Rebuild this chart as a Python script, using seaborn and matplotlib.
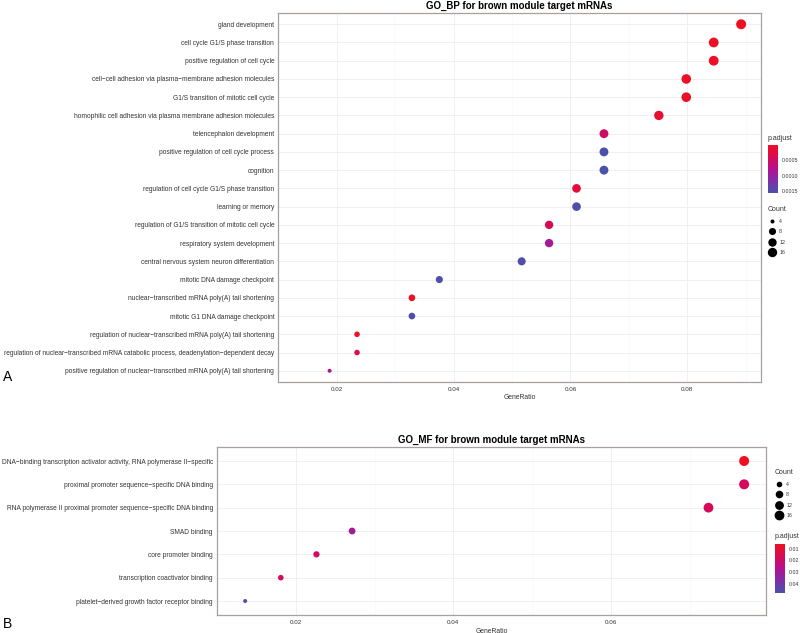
import numpy as np
import pandas as pd
import matplotlib
matplotlib.use("Agg")
import matplotlib.pyplot as plt
import seaborn as sns
from matplotlib.colors import LinearSegmentedColormap, Normalize
from matplotlib.lines import Line2D
import matplotlib.colorbar as mcolorbar

# ---------------- data ----------------
bp_terms = [
    "gland development",
    "cell cycle G1/S phase transition",
    "positive regulation of cell cycle",
    "cell\u2212cell adhesion via plasma\u2212membrane adhesion molecules",
    "G1/S transition of mitotic cell cycle",
    "homophilic cell adhesion via plasma membrane adhesion molecules",
    "telencephalon development",
    "positive regulation of cell cycle process",
    "cognition",
    "regulation of cell cycle G1/S phase transition",
    "learning or memory",
    "regulation of G1/S transition of mitotic cell cycle",
    "respiratory system development",
    "central nervous system neuron differentiation",
    "mitotic DNA damage checkpoint",
    "nuclear\u2212transcribed mRNA poly(A) tail shortening",
    "mitotic G1 DNA damage checkpoint",
    "regulation of nuclear\u2212transcribed mRNA poly(A) tail shortening",
    "regulation of nuclear\u2212transcribed mRNA catabolic process, deadenylation\u2212dependent decay",
    "positive regulation of nuclear\u2212transcribed mRNA poly(A) tail shortening",
]
bp_count = [19, 18, 18, 17, 17, 16, 14, 14, 14, 13, 13, 12, 12, 11, 8, 7, 7, 5, 5, 4]
bp_total = 213
bp_padj = [0.000016, 0.00005, 0.00006, 0.00008, 0.00008, 0.00015, 0.00050, 0.00156,
           0.00156, 0.00020, 0.00152, 0.00040, 0.00090, 0.00150, 0.00150, 0.00005,
           0.00150, 0.00010, 0.00030, 0.00090]

mf_terms = [
    "DNA\u2212binding transcription activator activity, RNA polymerase II\u2212specific",
    "proximal promoter sequence\u2212specific DNA binding",
    "RNA polymerase II proximal promoter sequence\u2212specific DNA binding",
    "SMAD binding",
    "core promoter binding",
    "transcription coactivator binding",
    "platelet\u2212derived growth factor receptor binding",
]
mf_count = [17, 17, 16, 6, 5, 4, 3]
mf_total = 221
mf_padj = [0.0060, 0.0170, 0.0170, 0.0300, 0.0190, 0.0170, 0.0480]

bp_xticks = [0.02, 0.04, 0.06, 0.08]
mf_xticks = [0.02, 0.04, 0.06]
count_legend = [4, 8, 12, 16]
bp_cbar_ticks = [0.0005, 0.0010, 0.0015]
mf_cbar_ticks = [0.01, 0.02, 0.03, 0.04]

# ---------------- style ----------------
sns.set_style("white")
plt.rcParams["font.family"] = ["Liberation Sans", "DejaVu Sans"]

cmap = LinearSegmentedColormap.from_list(
    "rb", ["#EE1020", "#D80A55", "#B4108E", "#7E30A8", "#4A52AA"])
TXT = "#333333"
BORDER = "#A8A09E"

W, H = 800, 633
fig = plt.figure(figsize=(8, 6.33), dpi=100)


def fx(px):
    return px / W


def fy(py):
    return 1 - py / H


def diam_px(c, cmin, cmax):
    return 4 + 6 * np.sqrt((c - cmin) / (cmax - cmin))


def panel(rect, terms, counts, total, padj, xticks, title, xlim):
    df = pd.DataFrame({"Description": terms,
                       "GeneRatio": np.array(counts) / total,
                       "Count": counts,
                       "p.adjust": padj})
    cmin, cmax = min(counts), max(counts)
    sizes = {c: (diam_px(c, cmin, cmax) * 0.72) ** 2 for c in sorted(set(counts))}
    ax = fig.add_axes(rect)
    vmin, vmax = min(padj), max(padj)
    sns.scatterplot(data=df, x="GeneRatio", y="Description", hue="p.adjust",
                    palette=cmap, hue_norm=(vmin, vmax), size="Count",
                    sizes=sizes, linewidth=0, legend=False, ax=ax, zorder=3)
    n = len(terms)
    ax.set_ylim(n - 1 + 0.6, -0.6)
    ax.set_xlim(*xlim)
    ax.set_xticks(xticks)
    ax.set_xticklabels([f"{t:.2f}" for t in xticks])
    minor = [(a + b) / 2 for a, b in zip(xticks[:-1], xticks[1:])]
    minor = [xticks[0] - (xticks[1] - xticks[0]) / 2] + minor + [xticks[-1] + (xticks[1] - xticks[0]) / 2]
    ax.set_xticks(minor, minor=True)
    ax.grid(True, which="major", color="#EEEEEE", linewidth=0.6, zorder=0)
    ax.grid(True, which="minor", axis="x", color="#F7F7F7", linewidth=0.4, zorder=0)
    ax.set_axisbelow(True)
    ax.tick_params(axis="y", labelsize=4.8, colors=TXT, length=2, width=0.5, pad=1)
    ax.tick_params(axis="x", labelsize=4.5, colors=TXT, length=2, width=0.5, pad=1.5)
    ax.tick_params(axis="x", which="minor", length=0)
    for sp in ax.spines.values():
        sp.set_color(BORDER)
        sp.set_linewidth(0.9)
    ax.set_ylabel("")
    ax.set_xlabel("GeneRatio", fontsize=4.9, color=TXT, labelpad=2)
    ax.set_title(title, fontsize=7, fontweight="bold", color="black", pad=3)
    return ax, (cmin, cmax), (vmin, vmax)


def count_legend_draw(x_px, y_px, cmin, cmax):
    handles = [Line2D([0], [0], marker="o", linestyle="", color="black",
                      markersize=diam_px(c, cmin, cmax) * 0.72, markeredgewidth=0)
               for c in count_legend]
    leg = fig.legend(handles, [str(c) for c in count_legend], title="Count",
                     loc="upper left", bbox_to_anchor=(fx(x_px), fy(y_px)),
                     frameon=False, fontsize=3.8, title_fontsize=5,
                     labelspacing=1.05, handletextpad=0.7, borderpad=0,
                     handlelength=1.4, alignment="left", borderaxespad=0)
    for t in leg.get_texts():
        t.set_color(TXT)
    leg.get_title().set_color(TXT)


def cbar_draw(x_px, y_top, y_bot, width_px, vmin, vmax, ticks, fmt, title_y):
    cax = fig.add_axes([fx(x_px), fy(y_bot), width_px / W, (y_bot - y_top) / H])
    cb = mcolorbar.ColorbarBase(cax, cmap=cmap, norm=Normalize(vmin, vmax))
    cb.outline.set_visible(False)
    cax.invert_yaxis()
    cb.set_ticks(ticks)
    cb.set_ticklabels([fmt.format(t) for t in ticks])
    cax.tick_params(labelsize=3.8, colors=TXT, length=2.5, width=0.4, pad=2.5,
                    color="white", direction="in")
    fig.text(fx(x_px), fy(title_y), "p.adjust", fontsize=5, color=TXT, va="center", ha="left")


# ---- top panel (BP)
ax1, (c1min, c1max), (v1min, v1max) = panel(
    [fx(278.3), fy(381.7), fx(761) - fx(278.3), (381.7 - 13.3) / H],
    bp_terms, bp_count, bp_total, bp_padj, bp_xticks,
    "GO_BP for brown module target mRNAs", (0.0153, 0.0926))
cbar_draw(768, 145, 193, 10, v1min, v1max, bp_cbar_ticks, "{:.4f}", 139)
count_legend_draw(768, 206, c1min, c1max)

# ---- bottom panel (MF)
ax2, (c2min, c2max), (v2min, v2max) = panel(
    [fx(217), fy(615), fx(766) - fx(217), (615 - 447) / H],
    mf_terms, mf_count, mf_total, mf_padj, mf_xticks,
    "GO_MF for brown module target mRNAs", (0.0105, 0.0797))
count_legend_draw(775, 469, c2min, c2max)
cbar_draw(775, 544, 593, 10, v2min, v2max, mf_cbar_ticks, "{:.2f}", 537)

fig.text(fx(3), fy(377), "A", fontsize=10, color="black", va="center", ha="left")
fig.text(fx(3), fy(624), "B", fontsize=10, color="black", va="center", ha="left")

fig.savefig("out.png", dpi=100, facecolor="white")
